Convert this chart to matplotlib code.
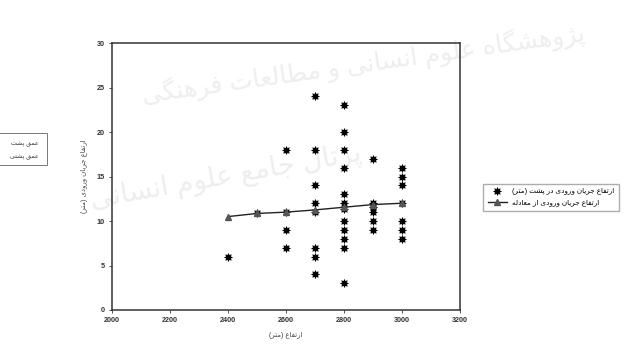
import matplotlib

matplotlib.use("Agg")

import matplotlib.pyplot as plt
from matplotlib.patches import Rectangle

plt.rcParams["font.family"] = ["Liberation Sans", "DejaVu Sans"]

# observed points (x, y)
obs_x = [2400,
         2500,
         2600, 2600, 2600, 2600,
         2700, 2700, 2700, 2700, 2700, 2700, 2700, 2700,
         2800, 2800, 2800, 2800, 2800, 2800, 2800, 2800, 2800, 2800, 2800, 2800,
         2900, 2900, 2900, 2900, 2900, 2900,
         3000, 3000, 3000, 3000, 3000, 3000, 3000]
obs_y = [6,
         10.9,
         18, 11, 9, 7,
         24, 18, 14, 12, 11, 7, 6, 4,
         23, 20, 18, 16, 13, 12, 11.4, 10, 9, 8, 7, 3,
         17, 12, 11.6, 11, 10, 9,
         16, 15, 14, 12, 10, 9, 8]

# fitted line
fit_x = [2400, 2500, 2600, 2700, 2800, 2900, 3000]
fit_y = [10.5, 10.85, 11.0, 11.25, 11.55, 11.85, 12.0]

x_ticks = [2000, 2200, 2400, 2600, 2800, 3000, 3200]
y_ticks = [0, 5, 10, 15, 20, 25, 30]

xlabel_fa = "ارتفاع (متر)"
ylabel_fa = "ارتفاع جریان ورودی (متر)"
legend_obs_fa = "ارتفاع جریان ورودی در پشت (متر)"
legend_fit_fa = "ارتفاع جریان ورودی از معادله"
side_legend_fa = ["عمق پشت", "عمق پشتی"]
watermark_fa = ["پژوهشگاه علوم انسانی و مطالعات فرهنگی", "پرتال جامع علوم انسانی"]


# minimal Persian shaping (matplotlib has no bidi / joining)
_DUAL = {
    "ب": (0xFE8F, 0xFE90, 0xFE91, 0xFE92), "پ": (0xFB56, 0xFB57, 0xFB58, 0xFB59),
    "ت": (0xFE95, 0xFE96, 0xFE97, 0xFE98), "ج": (0xFE9D, 0xFE9E, 0xFE9F, 0xFEA0),
    "ح": (0xFEA1, 0xFEA2, 0xFEA3, 0xFEA4), "س": (0xFEB1, 0xFEB2, 0xFEB3, 0xFEB4),
    "ش": (0xFEB5, 0xFEB6, 0xFEB7, 0xFEB8), "ط": (0xFEC1, 0xFEC2, 0xFEC3, 0xFEC4),
    "ع": (0xFEC9, 0xFECA, 0xFECB, 0xFECC), "ف": (0xFED1, 0xFED2, 0xFED3, 0xFED4),
    "ق": (0xFED5, 0xFED6, 0xFED7, 0xFED8), "ک": (0xFB8E, 0xFB8F, 0xFB90, 0xFB91),
    "گ": (0xFB92, 0xFB93, 0xFB94, 0xFB95), "ل": (0xFEDD, 0xFEDE, 0xFEDF, 0xFEE0),
    "م": (0xFEE1, 0xFEE2, 0xFEE3, 0xFEE4), "ن": (0xFEE5, 0xFEE6, 0xFEE7, 0xFEE8),
    "ه": (0xFEE9, 0xFEEA, 0xFEEB, 0xFEEC), "ی": (0xFBFC, 0xFBFD, 0xFBFE, 0xFBFF),
}
_RIGHT = {
    "ا": (0xFE8D, 0xFE8E), "د": (0xFEA9, 0xFEAA), "ر": (0xFEAD, 0xFEAE),
    "ز": (0xFEAF, 0xFEB0), "ژ": (0xFB8A, 0xFB8B), "و": (0xFEED, 0xFEEE),
}


def fa(text):
    out = []
    for i, ch in enumerate(text):
        prev = text[i - 1] if i > 0 else ""
        nxt = text[i + 1] if i + 1 < len(text) else ""
        joins_prev = prev in _DUAL
        if ch in _DUAL:
            joins_next = nxt in _DUAL or nxt in _RIGHT
            form = _DUAL[ch][(1 if joins_prev else 0) + (2 if joins_next else 0)]
            out.append(chr(form))
        elif ch in _RIGHT:
            out.append(chr(_RIGHT[ch][1 if joins_prev else 0]))
        else:
            out.append({"(": ")", ")": "("}.get(ch, ch))
    return "".join(reversed(out))


fig = plt.figure(figsize=(6.27, 3.54), dpi=100)
ax = fig.add_axes([0.1786, 0.1243, 0.555, 0.754])
ax.patch.set_alpha(0)

ax.scatter(obs_x, obs_y, marker=(8, 1, 0), s=30, color="black", linewidths=0.6,
           zorder=3, label=fa(legend_obs_fa))
ax.plot(fit_x, fit_y, color="#222222", linewidth=1.0, marker="^", markersize=4,
        markerfacecolor="#555555", markeredgecolor="#555555", zorder=4,
        label=fa(legend_fit_fa))

ax.set_xlim(2000, 3200)
ax.set_ylim(0, 30)
ax.set_xticks(x_ticks)
ax.set_yticks(y_ticks)
ax.tick_params(labelsize=5.2, length=2, width=0.6, colors="#333333", pad=3)
for label in ax.get_xticklabels() + ax.get_yticklabels():
    label.set_fontweight("bold")
for spine in ax.spines.values():
    spine.set_linewidth(1.1)
    spine.set_color("#333333")

ax.set_xlabel(fa(xlabel_fa), fontsize=5, color="#444444", labelpad=6)
ax.set_ylabel(fa(ylabel_fa), fontsize=5, color="#444444", labelpad=6)

fig.legend(loc="center", bbox_to_anchor=(0.879, 0.443), fontsize=5.2,
           frameon=True, fancybox=False, edgecolor="#999999", handlelength=2.6,
           borderpad=0.6, labelspacing=0.6)

# partial legend of a neighbouring figure, cut at the left edge
fig.patches.append(Rectangle((-0.02, 0.535), 0.095, 0.09, transform=fig.transFigure,
                             fill=False, edgecolor="#777777", linewidth=0.7))
fig.text(0.062, 0.592, fa(side_legend_fa[0]), fontsize=4.5, ha="right", va="center",
         color="#333333")
fig.text(0.062, 0.557, fa(side_legend_fa[1]), fontsize=4.5, ha="right", va="center",
         color="#333333")

# faint watermark of the scanned page, kept behind the chart
fig.text(0.58, 0.82, fa(watermark_fa[0]), fontsize=18, color="#eeeeee", ha="center",
         va="center", rotation=8, zorder=-1)
fig.text(0.36, 0.50, fa(watermark_fa[1]), fontsize=20, color="#eeeeee", ha="center",
         va="center", rotation=10, zorder=-1)

fig.savefig("out.png", dpi=100)
plt.close(fig)
